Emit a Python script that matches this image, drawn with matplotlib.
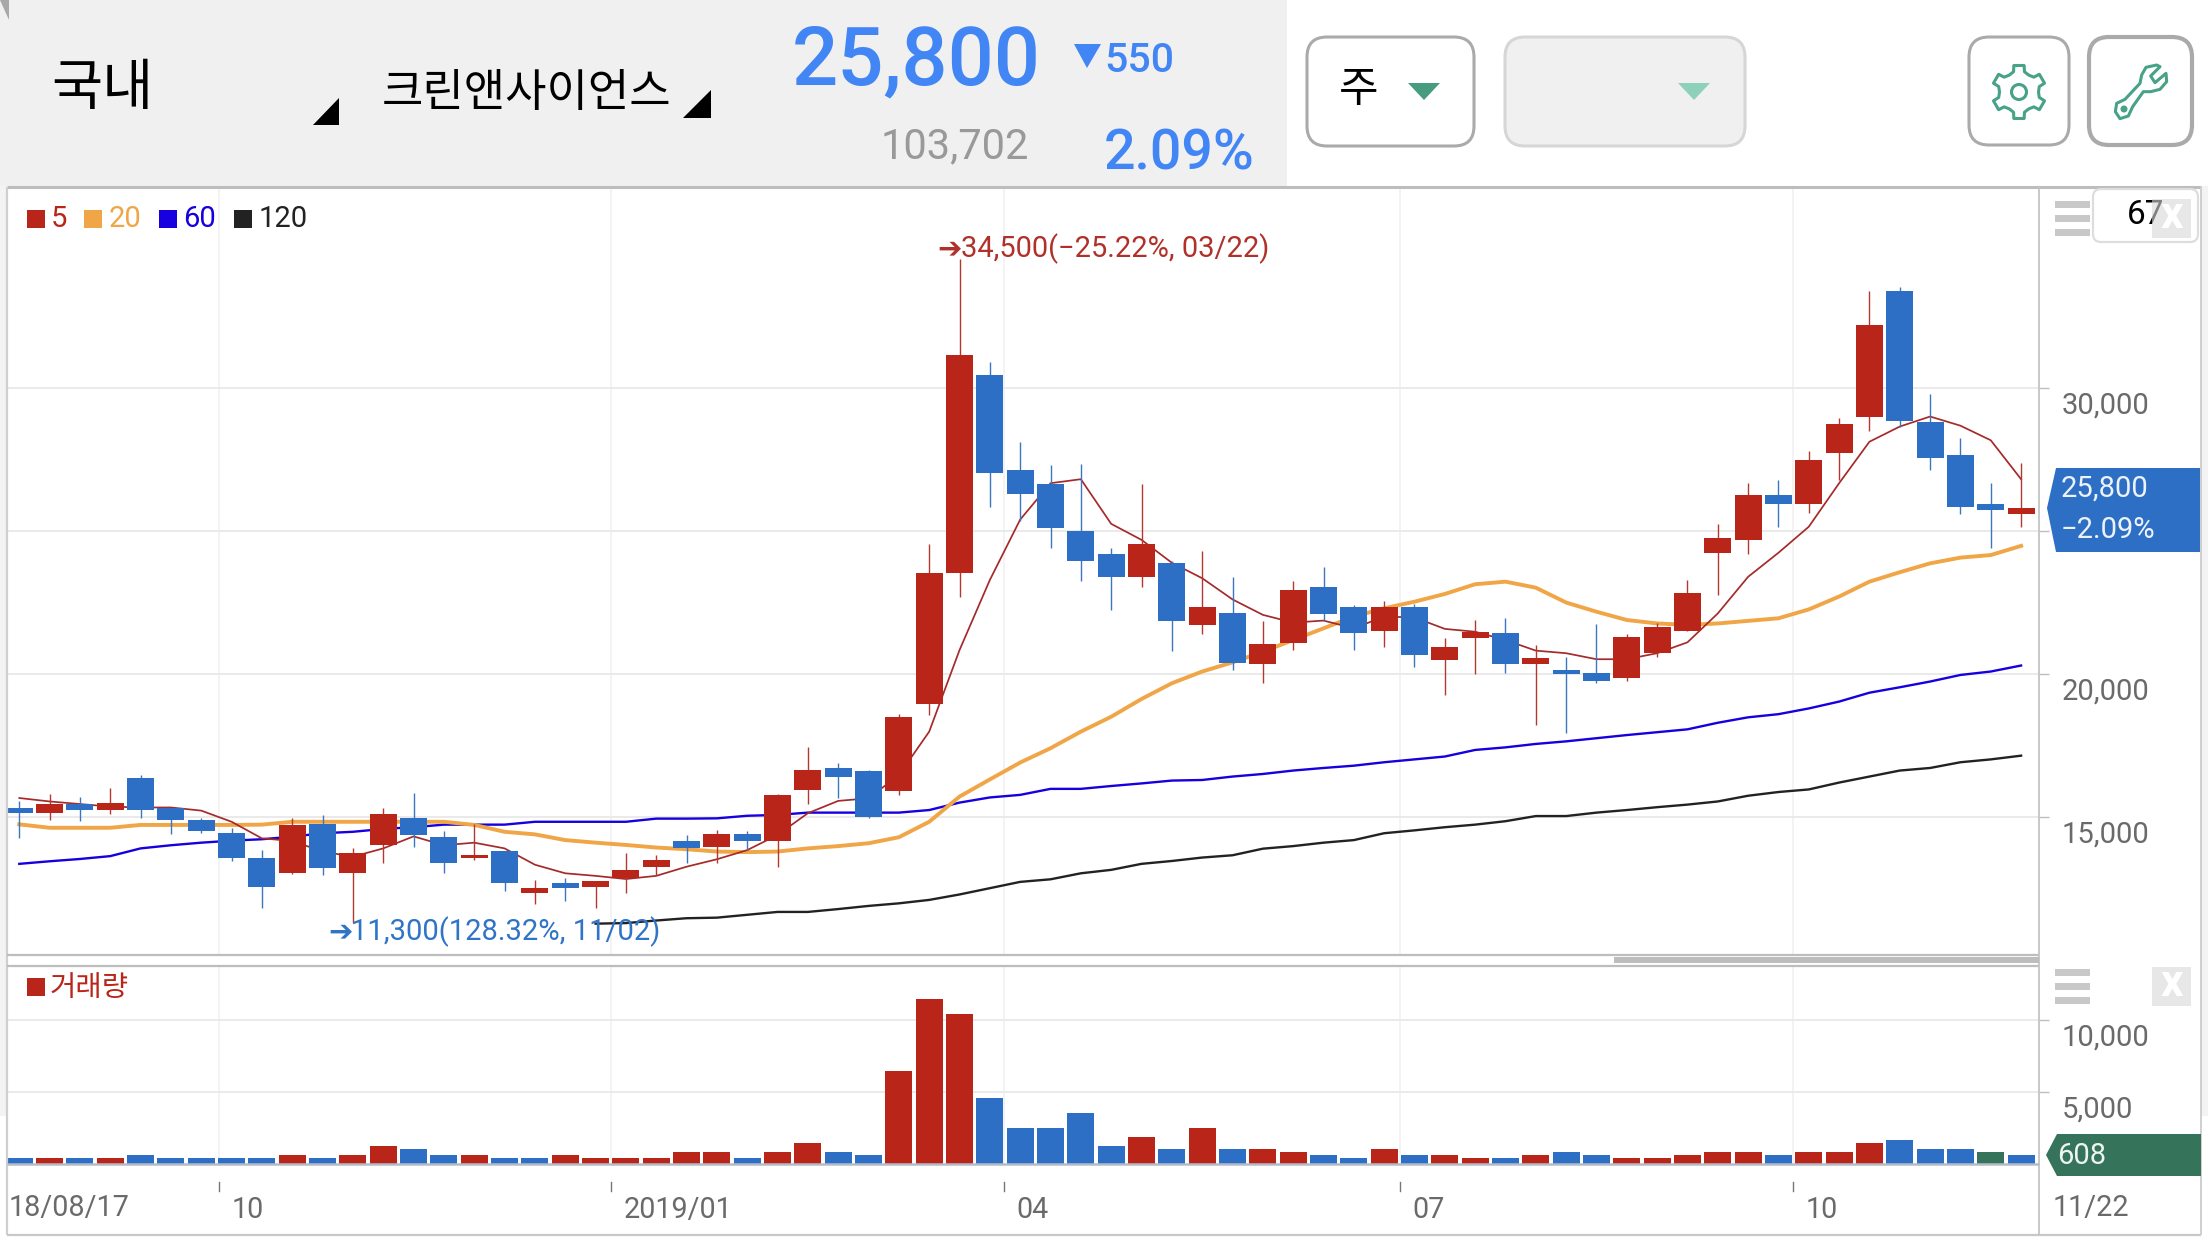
import numpy as np
import matplotlib
matplotlib.use("Agg")
import matplotlib.pyplot as plt
from matplotlib.patches import Rectangle, Polygon, FancyBboxPatch, Circle
from matplotlib.transforms import ScaledTranslation

plt.rcParams['font.family'] = ['Roboto', 'Noto Sans CJK KR', 'DejaVu Sans']

# ---------- data ----------
opens = [15320,15160,15460,15260,16370,15330,14900,14450,13570,13060,14760,13060,14040,14970,14310,13590,13820,12360,12700,12570,12890,13270,14180,
         13970,14410,14180,15960,16720,16610,15930,18970,23540,30450,27130,26640,25000,24200,23400,23880,21730,22140,20360,21100,23040,22340,21520,
         22340,20500,21270,21440,20360,20140,20040,19880,20740,21520,24240,24700,26260,25960,27740,29000,33390,28810,27660,25940,25610]
highs = [15570,15810,15690,16010,16470,15330,14980,14630,13850,14960,15080,13910,15310,15830,14520,14760,13820,12800,12880,12760,13740,13680,14380,
         14550,14520,15810,17450,16890,16650,18590,24550,34500,30900,28110,27310,27340,24390,26640,23950,24300,23390,21860,23250,23740,22400,22550,
         22450,21260,21890,21960,21020,20600,21750,21400,21790,23290,25250,26680,26780,27800,28950,33390,33530,29790,28250,26680,27380]
lows = [14290,14900,14880,15120,14980,14420,14460,13480,11840,13020,12980,11300,13400,13960,13050,13520,12420,11970,12070,11830,12360,12980,13400,
        13410,13850,13270,15460,15670,14980,15780,18570,22690,25850,25360,24420,23260,22250,23060,20820,21400,20140,19690,20840,21870,20850,20950,
        20260,19270,20000,20050,18220,17950,19700,19770,20590,21520,22760,24210,25140,25630,26780,28490,28650,27130,25590,24410,25140]
closes = [15160,15460,15260,15500,15260,14910,14530,13590,12570,14730,13240,13740,15110,14390,13410,13680,12710,12530,12540,12760,13160,13500,13940,
          14410,14180,15780,16650,16420,15020,18500,23530,31150,27040,26300,25120,23960,23400,24550,21870,22340,20400,21050,22940,22110,21450,22340,
          20680,20950,21460,20360,20560,20000,19770,21300,21650,22830,24760,26260,25960,27480,28740,32200,28860,27560,25850,25750,25800]

ma5 = [15670,15550,15460,15370,15340,15340,15230,14840,14260,14170,13800,13620,13910,14330,14020,14110,13910,13340,13040,12950,12840,12950,13270,
       13530,13850,14380,15140,15570,15660,16470,17990,20840,23290,25400,26670,26810,25250,24690,23890,23350,22610,22070,21800,21870,21600,22010,
       21980,21580,21480,21190,20820,20730,20520,20520,20730,21110,22120,23400,24240,25150,26670,28120,28650,29000,28680,28170,26810]
ma20 = [14750,14630,14630,14630,14730,14730,14730,14730,14740,14840,14840,14840,14840,14840,14840,14730,14490,14400,14200,14110,14030,13940,13880,
        13800,13780,13800,13910,13990,14090,14300,14840,15720,16320,16910,17410,17990,18510,19130,19680,20090,20410,20780,21190,21600,22010,22300,
        22530,22800,23140,23230,23020,22500,22180,21890,21770,21720,21770,21860,21950,22260,22710,23230,23560,23870,24070,24160,24480]
ma60 = [13370,13460,13540,13640,13910,14020,14110,14180,14230,14320,14440,14490,14590,14650,14740,14740,14740,14840,14840,14840,14840,14950,14950,
        14960,15050,15080,15160,15160,15160,15160,15250,15510,15690,15780,15990,15990,16090,16180,16280,16300,16420,16510,16630,16720,16800,16920,
        17020,17120,17350,17440,17560,17650,17760,17870,17970,18070,18300,18490,18600,18800,19040,19350,19540,19740,19970,20090,20300]
ma120 = [np.nan]*19 + [11280,11300,11390,11470,
         11490,11590,11690,11690,11790,11900,11990,12110,12300,12520,12740,12830,13040,13160,13370,13470,13590,13670,13900,13990,14110,14200,14440,
         14540,14650,14740,14860,15040,15040,15160,15250,15350,15440,15550,15750,15880,15970,16210,16420,16630,16720,16920,17020,17150]

volumes = [417,417,417,417,625,417,417,417,417,625,417,625,1250,1042,625,625,417,417,625,417,417,417,833,833,417,833,1458,833,625,
           6458,11458,10417,4583,2500,2500,3542,1250,1875,1042,2500,1042,1042,833,625,417,1042,625,625,417,417,625,833,625,417,417,625,833,833,
           625,833,833,1458,1667,1042,1042,833,608]
vol_colors = list("brbrbbbbbrbrrbbrbbrrrrrrbrrbbrrrbbbbbrbrbrrbbrbrrbrbbrrrrrbrrrbbbgb")

price_ticks = [15000, 20000, 25000, 30000]
price_labels = ['15,000', '20,000', '', '30,000']   # the 25,000 label is covered by the price tag
vol_ticks = [5000, 10000]
vol_labels = ['5,000', '10,000']
month_pos = [6.58, 19.52, 32.47, 45.52, 58.48]
month_labels = ['10', '2019/01', '04', '07', '10']

RED = '#B92518'; BLUE = '#2E6FC6'; GREEN = '#35745A'
ORANGE = '#F0A546'; MA_BLUE = '#1600E0'; BLACK = '#222222'
GRAY = '#BDBDBD'; GRID = '#EAEAEA'; VGRID = '#F1F1F1'; TXT = '#6A6A6A'
TEAL = '#47A287'

W, H = 2208, 1242
fig = plt.figure(figsize=(W/100, H/100), dpi=100, facecolor='white')
def px_axes(x0, y0, x1, y1, **k):
    return fig.add_axes([x0/W, 1-y1/H, (x1-x0)/W, (y1-y0)/H], **k)

# ---------- chart axes ----------
x = np.arange(len(opens))
xlim = (-0.405, 66.59)
ax = px_axes(7, 187, 2039, 955)
ax.set_xlim(*xlim); ax.set_ylim(10185, 37020)
vx = px_axes(7, 966, 2039, 1164)
vx.set_xlim(*xlim); vx.set_ylim(0, 13750)

for a in (ax, vx):
    for s in a.spines.values():
        s.set_visible(False)
    a.patch.set_alpha(0)
    a.set_axisbelow(True)
    a.yaxis.tick_right()
    a.grid(axis='y', color=GRID, lw=1.4)
    a.grid(axis='x', color=VGRID, lw=1.2)
    a.set_xticks(month_pos)
    a.tick_params(axis='y', length=7.2, width=1, color=GRAY, pad=9.4, labelsize=21, labelcolor=TXT)
    a.tick_params(axis='x', length=0)

ax.set_xticklabels([])
ax.set_yticks(price_ticks); ax.set_yticklabels(price_labels)
vx.set_yticks(vol_ticks); vx.set_yticklabels(vol_labels)
for a, dy in ((ax, -0.145), (vx, -0.15)):
    for lab in a.get_yticklabels():
        lab.set_transform(lab.get_transform() + ScaledTranslation(0, dy, fig.dpi_scale_trans))
vx.set_xticklabels(month_labels, ha='left', fontsize=20.7, color=TXT)
vx.tick_params(axis='x', pad=0)
for lab in vx.get_xticklabels():
    lab.set_transform(lab.get_transform() + ScaledTranslation(0.125, -0.32, fig.dpi_scale_trans))

# moving averages
ax.plot(x, ma5, color='#A52A2A', lw=1.25, zorder=2.4)
ax.plot(x, ma20, color=ORANGE, lw=2.8, zorder=2.3)
ax.plot(x, ma60, color=MA_BLUE, lw=1.7, zorder=2.2)
ax.plot(x, ma120, color=BLACK, lw=1.7, zorder=2.2)

# candles
o, h, l, c = map(np.array, (opens, highs, lows, closes))
up = c >= o
cols = np.where(up, RED, BLUE)
wcols = np.where(up, '#B5382E', '#3B76BE')
ax.vlines(x, l, h, colors=wcols, lw=1.0, zorder=3)
ax.bar(x, np.abs(c-o), bottom=np.minimum(o, c), width=0.89, color=cols, linewidth=0, zorder=3.1)

# volume
cmap = {'r': RED, 'b': BLUE, 'g': GREEN}
vx.bar(x, volumes, width=0.89, color=[cmap[k] for k in vol_colors], linewidth=0, zorder=3)
tr = vx.get_xaxis_transform()
for mp in month_pos:
    vx.plot([mp, mp], [-18/198, -27/198], color='#777777', lw=1, transform=tr, clip_on=False)

# ---------- overlay: application chrome ----------
ov = fig.add_axes([0, 0, 1, 1], zorder=10)
ov.set_xlim(0, W); ov.set_ylim(H, 0); ov.axis('off'); ov.patch.set_alpha(0)

def rect(x0, y0, x1, y1, color, z=1, **k):
    ov.add_patch(Rectangle((x0, y0), x1-x0, y1-y0, facecolor=color, edgecolor='none', zorder=z, **k))
def poly(pts, color, z=2):
    ov.add_patch(Polygon(pts, closed=True, facecolor=color, edgecolor='none', zorder=z))
def rbox(x0, y0, x1, y1, fc, ec, lw=2.2, r=20):
    ov.add_patch(FancyBboxPatch((x0, y0), x1-x0, y1-y0, boxstyle=f"round,pad=0,rounding_size={r}",
                                facecolor=fc, edgecolor=ec, lw=lw, zorder=2))
def T(xp, yp, s, size, color, ha='left', va='baseline', weight='normal', z=5, **k):
    ov.text(xp, yp, s, fontsize=size, color=color, ha=ha, va=va, fontweight=weight, zorder=z, **k)

# header
rect(0, 0, 1287, 186, '#F0F0F0')
rect(0, 186, 7, 1116, '#F3F3F3')
rect(2201, 186, 2208, 1116, '#F3F3F3')
poly([(0, 0), (9, 0), (9, 20)], '#A8A8A8')
T(102, 89, '국내', 40, 'black', ha='center', va='center', family='Noto Sans CJK KR')
T(527, 93, '크린앤사이언스', 32.4, 'black', ha='center', va='center', family='Noto Sans CJK KR')
poly([(313, 125), (339, 125), (339, 98)], 'black')
poly([(683, 118), (711, 118), (711, 90)], 'black')
T(792, 85, '25,800', 58.5, '#4285F4', weight='medium')
poly([(1074, 44), (1101, 44), (1087, 68)], '#4285F4')
T(1104, 72, '550', 29.5, '#4285F4', weight='medium')
T(881, 158, '103,702', 30, '#999999')
T(1104, 170, '2.09%', 40, '#4285F4', weight='medium')

# buttons
rbox(1307, 37, 1474, 146, 'white', '#AAAAAA')
rbox(1505, 37, 1745, 146, '#F0F0F0', '#D6D6D6')
rbox(1969, 37, 2069, 145, 'white', '#AAAAAA')
rbox(2089, 37, 2192, 145, 'white', '#AAAAAA', lw=3)
T(1359, 90, '주', 31, 'black', ha='center', va='center', family='Noto Sans CJK KR')
poly([(1408, 83), (1440, 83), (1424, 100)], '#479B7E')
poly([(1678, 83), (1710, 83), (1694, 100)], '#8FD0BB')

# gear icon
cx, cy = 2019, 92
gear = []
for k in range(6):
    a0 = np.deg2rad(k*60 - 90)
    for d, rr in [(-30, 19.5), (-15, 21), (-11, 27), (11, 27), (15, 21)]:
        t = a0 + np.deg2rad(d)
        gear.append((cx + rr*np.cos(t), cy + rr*np.sin(t)))
ov.add_patch(Polygon(gear, closed=True, fill=False, edgecolor=TEAL, lw=2.2, joinstyle='round', zorder=3))
ov.add_patch(Circle((cx, cy), 7.5, fill=False, edgecolor=TEAL, lw=2.2, zorder=3))

# wrench icon
wz = [(558,142),(590,135),(600,140),(572,168),(585,188),(618,160),(620,185),(600,208),(572,215),(550,215),
      (518,260),(505,288),(480,296),(466,275),(470,250),(495,238),(540,190),(545,165)]
ov.add_patch(Polygon([(1960+a/3, 20+b/3) for a, b in wz], closed=True, fill=False, edgecolor=TEAL, lw=2.2, joinstyle='round', zorder=3))
ov.add_patch(Circle((2124, 109), 2.8, color=TEAL, zorder=3))

# frame
for xs, ys, col, lw in [((7, 2201), (187, 187), GRAY, 2.2), ((7, 7), (187, 1235), '#CFCFCF', 1.6),
                        ((7, 2039), (955, 955), GRAY, 1.6), ((7, 2039), (966, 966), GRAY, 1.6),
                        ((7, 2201), (1235, 1235), '#C8C8C8', 1.6), ((2039, 2039), (187, 1235), '#C4C4C4', 1.3),
                        ((2201, 2201), (187, 1235), '#CFCFCF', 1.4), ((7, 2039), (1164, 1164), '#B5BCC8', 1.8)]:
    ov.plot(xs, ys, color=col, lw=lw, zorder=2, solid_capstyle='butt')
rect(1614, 957, 2039, 963, '#BDBDBD', z=3)

# legends
for (sx, tx, s, col) in [(27, 51, '5', RED), (84, 109, '20', ORANGE), (159, 183, '60', MA_BLUE), (234, 259, '120', BLACK)]:
    rect(sx, 210, sx+18, 228, col)
    T(tx, 219, s, 21, col, va='center')
rect(27, 978, 45, 996, RED)
T(50, 988, '거래량', 20.6, RED, va='center', family='Noto Sans CJK KR')

# extreme annotations
T(937, 249, '➔', 21, '#B0302A', va='center', family='DejaVu Sans', weight='bold')
T(961, 249, '34,500(−25.22%, 03/22)', 20.9, '#B0302A', va='center')
T(328, 932, '➔', 21, '#2F74C6', va='center', family='DejaVu Sans', weight='bold')
T(351, 932, '11,300(128.32%, 11/02)', 21, '#2F74C6', va='center')

# right panel
for y0 in (201, 215, 229, 969, 983, 997):
    rect(2055, y0, 2090, y0+7, '#C8C8C8')
rbox(2093, 189, 2198, 242, 'white', '#DDDDDD', lw=1.6, r=8)
T(2127, 215, '67', 24, 'black', va='center', z=4)
for y0, y1 in ((199, 238), (967, 1006)):
    rect(2152, y0, 2191, y1, '#D8D8D8', z=4.5, alpha=0.6)
    T(2171.5, (y0+y1)/2 - 2, 'x', 32, 'white', ha='center', va='center', weight='bold')

# value tags
poly([(2056, 468), (2200, 468), (2200, 552), (2056, 552), (2047, 508)], BLUE, z=4)
T(2061, 489, '25,800', 21, '#EDF2FB', va='center')
T(2061, 530, '−2.09%', 21, '#EDF2FB', va='center')
poly([(2057, 1134), (2201, 1134), (2201, 1176), (2057, 1176), (2046, 1155)], GREEN, z=4)
T(2057, 1156, '608', 21, '#EDF5F0', va='center')

# end labels of the date axis
T(9, 1208, '18/08/17', 20.7, TXT, va='center')
T(2053, 1208, '11/22', 20.7, TXT, va='center')

fig.savefig('out.png', dpi=100, facecolor='white')
